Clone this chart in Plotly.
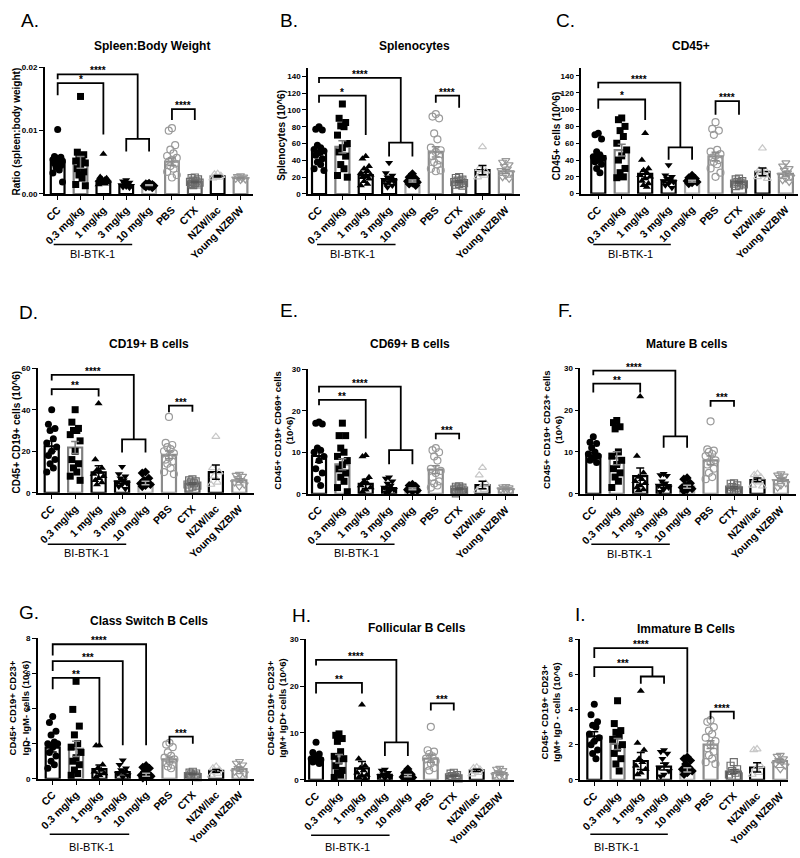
import numpy as np
import plotly.graph_objects as go

# ---------------- data ----------------
CATEGORIES = ["CC", "0.3 mg/kg", "1 mg/kg", "3 mg/kg", "10 mg/kg", "PBS", "CTX", "NZW/lac", "Young NZB/W"]

A_MEANS = [0.0049, 0.0050, 0.0020, 0.0014, 0.0014, 0.0051, 0.0019, 0.0028, 0.0025]
A_POINTS = [
    [0.0102, 0.0059, 0.0058, 0.0057, 0.0055, 0.0054, 0.0052, 0.0050, 0.0048, 0.0045, 0.0042, 0.0038, 0.0033, 0.0019],
    [0.0154, 0.0066, 0.0062, 0.0058, 0.0055, 0.0052, 0.0049, 0.0045, 0.0040, 0.0035, 0.0030, 0.0025, 0.0015, 0.0013],
    [0.0063, 0.0027, 0.0025, 0.0024, 0.0023, 0.0022, 0.0021, 0.0020, 0.0019, 0.0018, 0.0017, 0.0016, 0.0015],
    [0.0022, 0.0020, 0.0018, 0.0016, 0.0015, 0.0014, 0.0013, 0.0012, 0.0011, 0.0010],
    [0.0017, 0.0016, 0.0015, 0.0015, 0.0014, 0.0013, 0.0013, 0.0012, 0.0011, 0.0010],
    [0.0104, 0.0100, 0.0077, 0.0070, 0.0064, 0.0060, 0.0057, 0.0054, 0.0051, 0.0048, 0.0044, 0.0040, 0.0035, 0.0030, 0.0026],
    [0.0026, 0.0025, 0.0023, 0.0021, 0.0020, 0.0019, 0.0018, 0.0017, 0.0016, 0.0015, 0.0014],
    [0.0032, 0.0031, 0.0029, 0.0027, 0.0026, 0.0025],
    [0.0029, 0.0028, 0.0027, 0.0026, 0.0025, 0.0024, 0.0023, 0.0022],
]
A_BRACKETS = [(0, 3.5, 0.0189, 0.0181, 0.0087, "****"), (3, 4, 0.0087, 0.0067, 0.0067, ""),
              (0, 2, 0.0175, 0.0156, 0.0094, "*"), (5, 6, 0.0134, 0.0117, 0.0117, "****")]
A_YTICKS = [0, 0.01, 0.02]
A_YTEXT = ["0.00", "0.01", "0.02"]

B_MEANS = [51.3, 56, 22.5, 17.8, 15.4, 50, 14.6, 28.4, 27]
B_POINTS = [
    [80, 77, 76, 58, 55, 53, 51, 49, 46, 42, 38, 35, 30, 28],
    [107, 90, 85, 81, 80, 70, 60, 55, 50, 45, 35, 30, 22, 20],
    [45, 42, 33, 30, 28, 25, 23, 22, 20, 18, 15, 12, 10],
    [37, 25, 22, 20, 18, 17, 15, 14, 12, 10, 8],
    [24, 20, 18, 17, 16, 15, 14, 13, 12, 10],
    [95, 92, 90, 72, 65, 55, 52, 50, 45, 40, 38, 35, 30, 28, 27],
    [20, 19, 17, 16, 15, 14, 13, 12, 11, 10],
    [56, 30, 27, 24, 22, 20],
    [40, 38, 35, 33, 30, 28, 25, 22, 20, 18],
]
B_BRACKETS = [(0, 3.5, 138, 132, 61, "****"), (3, 4, 61, 44.6, 44.6, ""),
              (0, 2, 117, 108.5, 70, "*"), (5, 6, 117, 108.5, 102.6, "****")]
B_YTICKS = [0, 20, 40, 60, 80, 100, 120, 140]

C_MEANS = [44.7, 51.8, 23.5, 15.7, 14.9, 44.3, 13.7, 25.9, 23.5]
C_POINTS = [
    [72, 70, 65, 50, 46, 44, 42, 40, 38, 35, 30, 25],
    [90, 88, 80, 75, 68, 60, 52, 45, 40, 30, 25, 20, 19],
    [72, 40, 30, 28, 25, 22, 20, 18, 15, 12, 10, 8],
    [34, 22, 20, 18, 16, 15, 14, 12, 10, 7],
    [22, 19, 18, 17, 16, 15, 14, 13, 12],
    [85, 77, 75, 70, 52, 50, 47, 45, 43, 40, 38, 35, 30, 25, 20],
    [18, 17, 15, 14, 13, 12, 11, 10, 9],
    [54, 28, 27, 25, 22, 20, 18],
    [37, 33, 30, 28, 25, 22, 20, 18, 16, 14],
]
C_BRACKETS = [(0, 3.5, 132, 125.5, 55, "****"), (3, 4, 55, 40.4, 40.4, ""),
              (0, 2, 112, 101, 87.5, "*"), (5, 6, 110, 94, 94, "****")]
C_YTICKS = [0, 20, 40, 60, 80, 100, 120, 140]

D_MEANS = [22.4, 21.8, 9.8, 5.5, 4.7, 18.3, 4.4, 10, 6]
D_POINTS = [
    [40, 33, 31, 30, 26, 24, 22, 20, 18, 16, 14, 12, 10],
    [40, 34, 31, 30, 30, 28, 25, 20, 16, 14, 12, 10, 8, 6],
    [43, 16, 12, 11, 10, 9, 8, 7, 6, 5, 4],
    [12.5, 9, 8, 7, 6, 5, 4.5, 4, 3, 2],
    [10, 9.5, 7, 6, 5, 4.5, 4, 3.5, 3],
    [36.5, 24, 23, 22, 21, 20, 19, 17, 16, 15, 14, 12, 10, 9],
    [6.5, 6, 5.5, 5, 4.5, 4, 3.5, 3, 2.5],
    [27, 12, 10, 8, 5, 4],
    [9, 8.5, 8, 7, 6, 5, 4, 3],
]
D_BRACKETS = [(0, 3.5, 56.8, 54, 25.7, "****"), (3, 4, 25.7, 19.4, 19.4, ""),
              (0, 2, 49.9, 47, 46.3, "**"), (5, 6, 42, 38.8, 39, "***")]
D_YTICKS = [0, 20, 40, 60]

E_MEANS = [9.1, 7.1, 2.4, 1.4, 1.2, 5.8, 1.2, 2.1, 1.2]
E_POINTS = [
    [17.3, 17.0, 16.8, 11, 10.5, 10, 9, 8, 6, 5, 3.5, 2],
    [17, 14, 14, 11, 10, 9, 8, 7, 6, 5, 4, 3, 1.5, 0.5],
    [9.3, 9, 4, 3, 2.5, 2, 1.5, 1, 0.5],
    [4, 3.7, 3, 2.5, 2, 1.5, 1, 0.5, 0.3],
    [2.3, 2, 1.8, 1.5, 1.2, 1, 0.8, 0.6],
    [11, 10.5, 10, 9, 8, 6, 5.5, 5, 4, 3, 2.5, 2, 1.5],
    [1.8, 1.7, 1.5, 1.3, 1.1, 1, 0.8, 0.5, 0.1],
    [6.3, 4.5, 2.5, 1.5, 1.0, 0.8],
    [1.8, 1.7, 1.5, 1.3, 1.1, 1.0, 0.8, 0.6],
]
E_BRACKETS = [(0, 3.5, 25.8, 24.4, 10.5, "****"), (3, 4, 10.5, 7.1, 7.1, ""),
              (0, 2, 22.6, 21.3, 13.3, "**"), (5, 6, 14.5, 13.1, 13.1, "***")]
E_YTICKS = [0, 10, 20, 30]

F_MEANS = [9.2, 8.5, 4.2, 2.1, 1.7, 8.0, 1.4, 3.3, 3.3]
F_POINTS = [
    [13.6, 12.3, 12, 11, 10, 9.5, 9, 8.5, 8, 7.5],
    [17.5, 17, 16, 15.5, 10, 9, 8, 7, 6, 5, 4, 3, 1.5],
    [23.2, 9, 5, 4, 3.5, 3, 2.5, 2, 1.5, 1, 0.8],
    [4.8, 4.5, 4.3, 3, 2.5, 2, 1.5, 1, 0.5],
    [3.8, 3.5, 2.5, 2, 1.8, 1.5, 1.2, 1, 0.7],
    [17.3, 10.6, 10.3, 10, 9.5, 9, 8, 7.5, 7, 6, 5, 4, 3.5],
    [2.5, 2.4, 2, 1.6, 1.3, 1, 0.8, 0.5],
    [4.8, 4.5, 4, 3.5, 2.8, 2, 1.8],
    [4.8, 4.5, 4.3, 4, 3.5, 3, 2.5, 2, 1.5],
]
F_BRACKETS = [(0, 3.5, 29.4, 28.3, 13.7, "****"), (3, 4, 13.7, 11, 11, ""),
              (0, 2, 26.3, 24.2, 24.2, "**"), (5, 6, 22.2, 20.8, 20.8, "***")]
F_YTICKS = [0, 10, 20, 30]

G_MEANS = [1.77, 1.70, 0.55, 0.38, 0.23, 1.10, 0.28, 0.45, 0.55]
G_POINTS = [
    [3.55, 3.2, 2.7, 2.5, 2.1, 2.0, 2.0, 1.8, 1.5, 1.3, 1.0, 0.8, 0.6],
    [5.55, 3.95, 3.0, 2.5, 2.0, 1.8, 1.5, 1.2, 1.0, 0.8, 0.5, 0.3, 0.2],
    [1.9, 1.9, 0.8, 0.6, 0.5, 0.4, 0.3, 0.2, 0.1],
    [1.05, 0.8, 0.6, 0.5, 0.4, 0.3, 0.2, 0.1],
    [0.75, 0.65, 0.6, 0.4, 0.3, 0.2, 0.15, 0.1, 0.05],
    [2.05, 1.95, 1.8, 1.5, 1.3, 1.2, 1.1, 1.0, 0.9, 0.8, 0.7, 0.6],
    [0.4, 0.35, 0.3, 0.25, 0.2, 0.15, 0.1],
    [0.7, 0.6, 0.5, 0.4, 0.3, 0.2],
    [1.0, 0.9, 0.8, 0.6, 0.5, 0.4, 0.3, 0.2],
]
G_BRACKETS = [(0, 4, 7.66, 7.02, 1.91, "****"), (0, 3, 6.7, 6.13, 1.91, "***"),
              (0, 2, 5.74, 5.1, 1.91, "**"), (5, 6, 2.4, 2.0, 2.0, "***")]
G_YTICKS = [0, 2, 4, 6, 8]

H_MEANS = [4.5, 4.5, 2.45, 1.05, 0.9, 4.5, 0.85, 2.0, 1.4]
H_POINTS = [
    [8, 5.8, 5.5, 5, 4.8, 4.5, 4.3, 4, 3.8, 3.5],
    [9.8, 9.5, 8.8, 8.2, 6, 5, 4.5, 4, 3, 2, 1.5, 1, 0.5],
    [16, 4.5, 3, 2.5, 2, 1.5, 1, 0.8, 0.5, 0.3],
    [2.2, 2, 1.5, 1.2, 1, 0.8, 0.6, 0.4],
    [2.3, 1.5, 1.2, 1, 0.8, 0.6, 0.5, 0.3],
    [11.3, 6.3, 6, 5.5, 5, 4.5, 4, 3.5, 3, 2.5, 2],
    [1.5, 1.3, 1.0, 0.8, 0.6, 0.5, 0.3],
    [2.7, 2.5, 2.2, 1.8, 1.5, 1.2],
    [2.5, 2.3, 2.0, 1.6, 1.3, 1.0, 0.8, 0.6],
]
H_BRACKETS = [(0, 3.5, 25.6, 24.4, 8.0, "****"), (3, 4, 8.0, 5.1, 5.1, ""),
              (0, 2, 20.7, 18.4, 18.4, "**"), (5, 6, 16.3, 14.8, 14.8, "***")]
H_YTICKS = [0, 10, 20, 30]

I_MEANS = [2.47, 2.04, 1.07, 0.75, 0.56, 2.0, 0.47, 0.7, 1.07]
I_POINTS = [
    [4.3, 3.7, 3.3, 3.1, 3.0, 2.6, 2.4, 2.2, 2.0, 1.7, 1.5, 1.2],
    [4.5, 3.2, 2.8, 2.7, 2.5, 2.3, 2.0, 1.8, 1.5, 1.2, 0.9, 0.5],
    [5.05, 2.1, 1.7, 1.2, 1.0, 0.8, 0.6, 0.4, 0.3],
    [1.7, 1.6, 1.5, 1.2, 0.9, 0.7, 0.5, 0.3, 0.2],
    [1.3, 1.2, 1.1, 0.9, 0.7, 0.6, 0.5, 0.4, 0.3],
    [3.4, 3.3, 3.0, 2.8, 2.6, 2.4, 2.2, 2.0, 1.8, 1.6, 1.4, 1.2, 1.0, 0.9],
    [1.0, 0.8, 0.6, 0.5, 0.4, 0.3, 0.2],
    [1.75, 1.7, 0.8, 0.6, 0.4, 0.3],
    [1.4, 1.35, 1.2, 1.1, 1.0, 0.9, 0.8, 0.6],
]
I_BRACKETS = [(0, 4, 7.5, 6.93, 1.54, "****"), (0, 2.5, 6.41, 5.85, 5.88, "***"),
              (2, 3, 5.88, 5.47, 5.47, ""), (5, 6, 3.88, 3.45, 3.45, "****")]
I_YTICKS = [0, 2, 4, 6, 8]

PANELS = [
    dict(letter="A.", title="Spleen:Body Weight", ylabel="Ratio (spleen:body weight)",
         means=A_MEANS, points=A_POINTS, brackets=A_BRACKETS, yticks=A_YTICKS, ytext=A_YTEXT, ymax=0.02),
    dict(letter="B.", title="Splenocytes", ylabel="Splenocytes (10^6)",
         means=B_MEANS, points=B_POINTS, brackets=B_BRACKETS, yticks=B_YTICKS, ytext=None, ymax=150),
    dict(letter="C.", title="CD45+", ylabel="CD45+ cells (10^6)",
         means=C_MEANS, points=C_POINTS, brackets=C_BRACKETS, yticks=C_YTICKS, ytext=None, ymax=150),
    dict(letter="D.", title="CD19+ B cells", ylabel="CD45+ CD19+ cells (10^6)",
         means=D_MEANS, points=D_POINTS, brackets=D_BRACKETS, yticks=D_YTICKS, ytext=None, ymax=60),
    dict(letter="E.", title="CD69+ B cells", ylabel="CD45+ CD19+ CD69+ cells<br>(10^6)",
         means=E_MEANS, points=E_POINTS, brackets=E_BRACKETS, yticks=E_YTICKS, ytext=None, ymax=30),
    dict(letter="F.", title="Mature B cells", ylabel="CD45+ CD19+ CD23+ cells<br>(10^6)",
         means=F_MEANS, points=F_POINTS, brackets=F_BRACKETS, yticks=F_YTICKS, ytext=None, ymax=30),
    dict(letter="G.", title="Class Switch B Cells", ylabel="CD45+ CD19+ CD23+<br>IgD- IgM- cells (10^6)",
         means=G_MEANS, points=G_POINTS, brackets=G_BRACKETS, yticks=G_YTICKS, ytext=None, ymax=8),
    dict(letter="H.", title="Follicular B Cells", ylabel="CD45+ CD19+ CD23+<br>IgM+ IgD+ cells (10^6)",
         means=H_MEANS, points=H_POINTS, brackets=H_BRACKETS, yticks=H_YTICKS, ytext=None, ymax=30),
    dict(letter="I.", title="Immature B Cells", ylabel="CD45+ CD19+ CD23+<br>IgM+ IgD - cells (10^6)",
         means=I_MEANS, points=I_POINTS, brackets=I_BRACKETS, yticks=I_YTICKS, ytext=None, ymax=8),
]

# ---------------- layout geometry (pixels) ----------------
W, H = 800, 858
GEOM = [
    dict(letter=(14, 17), title=(148, 42), ylab=(12, 129), left=40, right=250, c0=53, s=23.0, y0=192, ytop=64,
         bi=(49, 128, 243), bit=(88, 253)),
    dict(letter=(275, 17), title=(412, 42), ylab=(278, 133), left=305, right=518, c0=316, s=23.5, y0=192, ytop=64.5,
         bi=(314, 393, 243), bit=(350, 253)),
    dict(letter=(552, 17), title=(690, 42), ylab=(555, 134), left=580, right=798, c0=597, s=23.6, y0=191.7, ytop=64.2,
         bi=(592, 670, 243), bit=(629, 253)),
    dict(letter=(12, 312), title=(145, 344), ylab=(12, 432), left=33, right=251, c0=47, s=23.6, y0=494, ytop=368,
         bi=(43, 122, 546), bit=(82, 555)),
    dict(letter=(275, 310), title=(408, 344), ylab=(280, 431), left=305, right=516, c0=316, s=23.5, y0=495, ytop=369,
         bi=(313, 392, 546), bit=(354, 555)),
    dict(letter=(554, 310), title=(686, 344), ylab=(551, 430), left=579, right=796, c0=592, s=23.6, y0=495, ytop=368,
         bi=(590, 669, 546), bit=(628, 556)),
    dict(letter=(12, 615), title=(145, 624), ylab=(14, 711), left=33, right=251, c0=48, s=23.5, y0=783, ytop=641,
         bi=(45, 125, 839), bit=(87, 852)),
    dict(letter=(287, 618), title=(415, 631), ylab=(273, 711), left=303, right=512, c0=313, s=23.1, y0=784, ytop=642,
         bi=(308, 387, 840), bit=(345, 852)),
    dict(letter=(572, 617), title=(685, 632), ylab=(549, 716), left=579, right=788, c0=593, s=23.4, y0=784, ytop=642,
         bi=(589, 667, 839), bit=(615, 852)),
]

FONT = "Liberation Sans, Arial, Helvetica, sans-serif"
OUTLINE = ["#000000", "#808080", "#000000", "#000000", "#a8a8a8", "#8c8c8c", "#5a5a5a", "#000000", "#8c8c8c"]
SYMBOLS = ["circle", "square", "triangle-up", "triangle-down", "diamond",
           "circle-open", "square-open", "triangle-up-open", "triangle-down-open"]
MCOLOR = ["#000000"] * 5 + ["#9a9a9a", "#6e6e6e", "#c8c8c8", "#9a9a9a"]
JITTER = [0, -0.14, 0.14, -0.07, 0.07, -0.21, 0.21]


def px(x):
    return x / W


def py(y):
    return 1 - y / H


fig = go.Figure()
annotations = []
shapes = []
layout = {}

for i, (p, g) in enumerate(zip(PANELS, GEOM)):
    n = "" if i == 0 else str(i + 1)
    xa, ya = "x" + n, "y" + n
    xr0 = (g["left"] - g["c0"]) / g["s"]
    xr1 = (g["right"] - g["c0"]) / g["s"]
    layout["xaxis" + n] = dict(
        domain=[px(g["left"]), px(g["right"])], range=[xr0, xr1], anchor=ya,
        tickmode="array", tickvals=list(range(9)), ticktext=CATEGORIES, tickangle=-45,
        showline=True, linecolor="black", linewidth=1.6, ticks="outside", ticklen=4,
        tickwidth=1.2, tickcolor="black", showgrid=False, zeroline=False,
        tickfont=dict(family=FONT, size=10.5, color="black", weight="bold"))
    ydict = dict(
        domain=[py(g["y0"]), py(g["ytop"])], range=[0, p["ymax"]], anchor=xa,
        tickmode="array", tickvals=p["yticks"],
        showline=True, linecolor="black", linewidth=1.6, ticks="outside", ticklen=4,
        tickwidth=1.2, tickcolor="black", showgrid=False, zeroline=False,
        tickfont=dict(family=FONT, size=8, color="black", weight="bold"))
    if p["ytext"] is not None:
        ydict["ticktext"] = p["ytext"]
    layout["yaxis" + n] = ydict

    # bars
    fig.add_trace(go.Bar(x=list(range(9)), y=p["means"], width=0.6,
                         marker=dict(color="white", line=dict(color=OUTLINE, width=2.2)),
                         xaxis=xa, yaxis=ya, showlegend=False, hoverinfo="skip"))
    # points
    for k in range(9):
        vals = p["points"][k]
        xs = [k + JITTER[j % len(JITTER)] for j in range(len(vals))]
        is_open = SYMBOLS[k].endswith("open")
        fig.add_trace(go.Scatter(
            x=xs, y=vals, mode="markers", xaxis=xa, yaxis=ya, showlegend=False, hoverinfo="skip",
            cliponaxis=False,
            marker=dict(symbol=SYMBOLS[k], size=7, color=MCOLOR[k],
                        line=dict(width=1.2 if is_open else 0, color=MCOLOR[k]))))
    # error bars (SEM)
    for k in range(9):
        vals = np.array(p["points"][k], dtype=float)
        sem = vals.std(ddof=1) / np.sqrt(len(vals))
        fig.add_trace(go.Scatter(
            x=[k], y=[p["means"][k]], mode="markers", xaxis=xa, yaxis=ya, showlegend=False,
            hoverinfo="skip", marker=dict(size=2, color="rgba(0,0,0,0)"),
            error_y=dict(type="data", array=[sem], symmetric=True, color=OUTLINE[k],
                         thickness=1.5, width=4)))
    # brackets
    bx, by = [], []
    for (x1, x2, top, b1, b2, lab) in p["brackets"]:
        bx += [x1, x1, x2, x2, None]
        by += [b1, top, top, b2, None]
        if lab:
            annotations.append(dict(x=(x1 + x2) / 2, y=top, xref=xa, yref=ya, text=lab,
                                    showarrow=False, yanchor="bottom", yshift=-4,
                                    font=dict(family=FONT, size=10, color="black", weight="bold")))
    fig.add_trace(go.Scatter(x=bx, y=by, mode="lines", xaxis=xa, yaxis=ya, showlegend=False,
                             hoverinfo="skip", cliponaxis=False,
                             line=dict(color="black", width=1.8)))

    # texts
    two_line = "<br>" in p["ylabel"]
    annotations.append(dict(x=px(g["letter"][0]), y=py(g["letter"][1]), xref="paper", yref="paper",
                            text=p["letter"], showarrow=False, xanchor="left", yanchor="middle",
                            font=dict(family=FONT, size=19, color="black")))
    annotations.append(dict(x=px(g["title"][0]), y=py(g["title"][1]), xref="paper", yref="paper",
                            text=p["title"], showarrow=False, xanchor="center", yanchor="middle",
                            font=dict(family=FONT, size=12, color="black", weight="bold")))
    annotations.append(dict(x=px(g["ylab"][0]), y=py(g["ylab"][1]), xref="paper", yref="paper",
                            text=p["ylabel"], showarrow=False, xanchor="center", yanchor="middle",
                            textangle=-90,
                            font=dict(family=FONT, size=9.5 if two_line else 10, color="black",
                                      weight="bold")))
    annotations.append(dict(x=px(g["bit"][0]), y=py(g["bit"][1]), xref="paper", yref="paper",
                            text="BI-BTK-1", showarrow=False, xanchor="center", yanchor="middle",
                            font=dict(family=FONT, size=11, color="black")))
    x1, x2, yl = g["bi"]
    shapes.append(dict(type="line", xref="paper", yref="paper", x0=px(x1), x1=px(x2),
                       y0=py(yl), y1=py(yl), line=dict(color="black", width=1.5)))

fig.update_layout(
    width=W, height=H, margin=dict(l=0, r=0, t=0, b=0),
    paper_bgcolor="white", plot_bgcolor="white",
    showlegend=False, annotations=annotations, shapes=shapes,
    font=dict(family=FONT, color="black"), barmode="overlay",
    **layout)

fig.write_html("out.html", config={"displayModeBar": False},
               post_script="document.body.style.margin='0';document.body.style.overflow='hidden';")
